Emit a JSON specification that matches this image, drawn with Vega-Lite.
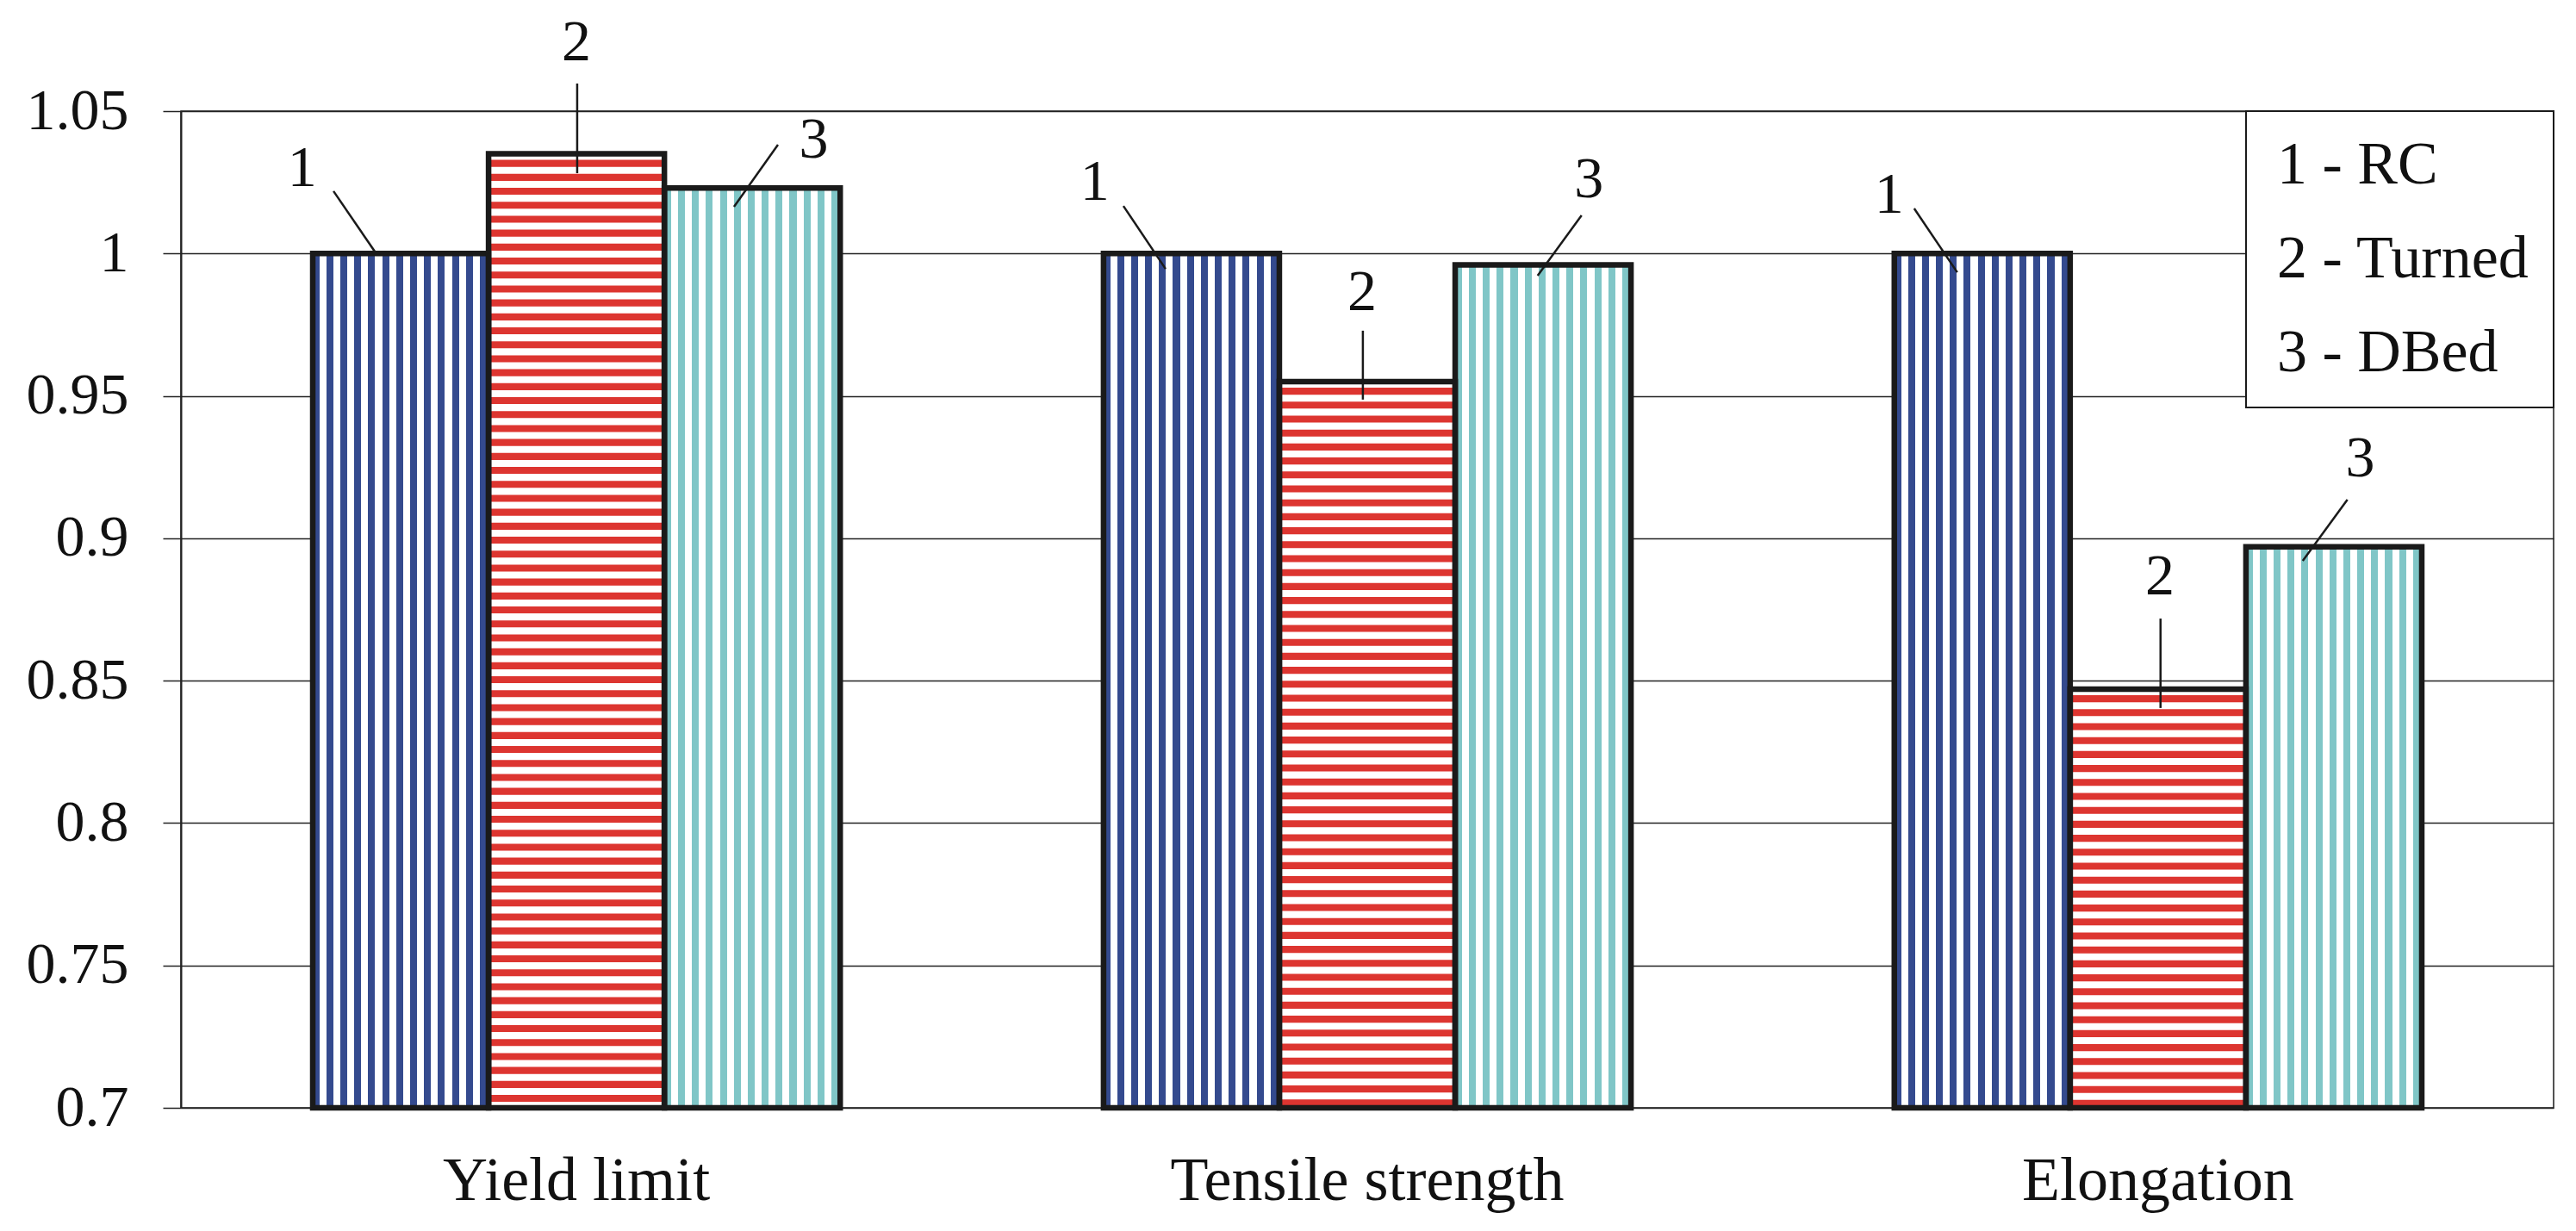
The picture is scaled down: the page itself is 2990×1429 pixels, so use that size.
{
  "$schema": "https://vega.github.io/schema/vega-lite/v6.json",
  "width": 2754,
  "height": 1157,
  "autosize": {"type": "none"},
  "padding": {"left": 210, "top": 129, "right": 26, "bottom": 143},
  "background": "white",
  "config": {
    "font": "Liberation Serif",
    "view": {"stroke": "#1A1A1A", "strokeWidth": 1.5},
    "legend": {"strokeWidth": 2}
  },
  "datasets": {
    "bars": [
      {"metric": "Yield limit", "series": "1 - RC", "value": 1.0},
      {"metric": "Yield limit", "series": "2 - Turned", "value": 1.035},
      {"metric": "Yield limit", "series": "3 - DBed", "value": 1.023},
      {"metric": "Tensile strength", "series": "1 - RC", "value": 1.0},
      {"metric": "Tensile strength", "series": "2 - Turned", "value": 0.955},
      {"metric": "Tensile strength", "series": "3 - DBed", "value": 0.996},
      {"metric": "Elongation", "series": "1 - RC", "value": 1.0},
      {"metric": "Elongation", "series": "2 - Turned", "value": 0.847},
      {"metric": "Elongation", "series": "3 - DBed", "value": 0.897}
    ],
    "labels": [
      {"metric": "Yield limit", "series": "1 - RC", "num": "1", "pos": -0.06, "ly": 1.0297},
      {"metric": "Yield limit", "series": "2 - Turned", "num": "2", "pos": 1.5, "ly": 1.0739},
      {"metric": "Yield limit", "series": "3 - DBed", "num": "3", "pos": 2.85, "ly": 1.0397},
      {"metric": "Tensile strength", "series": "1 - RC", "num": "1", "pos": -0.05, "ly": 1.0249},
      {"metric": "Tensile strength", "series": "2 - Turned", "num": "2", "pos": 1.47, "ly": 0.9862},
      {"metric": "Tensile strength", "series": "3 - DBed", "num": "3", "pos": 2.76, "ly": 1.0258},
      {"metric": "Elongation", "series": "1 - RC", "num": "1", "pos": -0.03, "ly": 1.0204},
      {"metric": "Elongation", "series": "2 - Turned", "num": "2", "pos": 1.51, "ly": 0.8863},
      {"metric": "Elongation", "series": "3 - DBed", "num": "3", "pos": 2.65, "ly": 0.9278}
    ],
    "leaders": [
      {"id": "Y1", "metric": "Yield limit", "pos": 0.118, "yv": 1.0219},
      {"id": "Y1", "metric": "Yield limit", "pos": 0.353, "yv": 1.0007},
      {"id": "Y2", "metric": "Yield limit", "pos": 1.504, "yv": 1.0597},
      {"id": "Y2", "metric": "Yield limit", "pos": 1.504, "yv": 1.0282},
      {"id": "Y3", "metric": "Yield limit", "pos": 2.646, "yv": 1.0382},
      {"id": "Y3", "metric": "Yield limit", "pos": 2.396, "yv": 1.0164},
      {"id": "T1", "metric": "Tensile strength", "pos": 0.113, "yv": 1.0167},
      {"id": "T1", "metric": "Tensile strength", "pos": 0.353, "yv": 0.9946},
      {"id": "T2", "metric": "Tensile strength", "pos": 1.475, "yv": 0.9729},
      {"id": "T2", "metric": "Tensile strength", "pos": 1.475, "yv": 0.9487},
      {"id": "T3", "metric": "Tensile strength", "pos": 2.719, "yv": 1.0134},
      {"id": "T3", "metric": "Tensile strength", "pos": 2.469, "yv": 0.9922},
      {"id": "E1", "metric": "Elongation", "pos": 0.113, "yv": 1.0158},
      {"id": "E1", "metric": "Elongation", "pos": 0.358, "yv": 0.9934},
      {"id": "E2", "metric": "Elongation", "pos": 1.514, "yv": 0.8718},
      {"id": "E2", "metric": "Elongation", "pos": 1.514, "yv": 0.8404},
      {"id": "E3", "metric": "Elongation", "pos": 2.577, "yv": 0.9136},
      {"id": "E3", "metric": "Elongation", "pos": 2.323, "yv": 0.8921}
    ]
  },
  "resolve": {"scale": {"xOffset": "independent"}},
  "layer": [
    {
      "data": {"name": "bars"},
      "mark": {"type": "bar", "strokeWidth": 0},
      "encoding": {
        "x": {
          "field": "metric", "type": "nominal",
          "scale": {"domain": ["Yield limit", "Tensile strength", "Elongation"], "paddingInner": 0.333, "paddingOuter": 0.1667},
          "axis": {"title": null, "labelAngle": 0, "ticks": false, "tickSize": 0, "domain": false, "labelFontSize": 72, "labelFont": "Liberation Serif", "labelColor": "#111111", "labelPadding": 49, "labelLimit": 1000}
        },
        "xOffset": {
          "field": "series", "type": "nominal",
          "scale": {"domain": ["1 - RC", "2 - Turned", "3 - DBed"], "paddingInner": 0, "paddingOuter": 0}
        },
        "y": {
          "field": "value", "type": "quantitative",
          "scale": {"domain": [0.7, 1.05], "nice": false, "zero": false},
          "axis": {"title": null, "values": [0.7, 0.75, 0.8, 0.85, 0.9, 0.95, 1, 1.05], "format": "~g", "grid": true, "gridColor": "#222222", "gridWidth": 1.5, "domain": true, "domainColor": "#222222", "domainWidth": 2, "ticks": true, "tickSize": 21, "tickColor": "#222222", "tickWidth": 1.5, "labelFontSize": 68, "labelFont": "Liberation Serif", "labelColor": "#111111", "labelPadding": 40, "labelFlush": false, "labelOverlap": false}
        },
        "y2": {"datum": 0.7},
        "fill": {
          "condition": [
            {"test": "datum.series === '1 - RC'", "value": {"gradient": "linear", "x1": 0, "y1": 0, "x2": 1, "y2": 0, "stops": [{"offset":0,"color":"#344A8E"},{"offset":0.038,"color":"#344A8E"},{"offset":0.038,"color":"#FFFFFF"},{"offset":0.0777,"color":"#FFFFFF"},{"offset":0.0777,"color":"#344A8E"},{"offset":0.1173,"color":"#344A8E"},{"offset":0.1173,"color":"#FFFFFF"},{"offset":0.157,"color":"#FFFFFF"},{"offset":0.157,"color":"#344A8E"},{"offset":0.1966,"color":"#344A8E"},{"offset":0.1966,"color":"#FFFFFF"},{"offset":0.2363,"color":"#FFFFFF"},{"offset":0.2363,"color":"#344A8E"},{"offset":0.2759,"color":"#344A8E"},{"offset":0.2759,"color":"#FFFFFF"},{"offset":0.3156,"color":"#FFFFFF"},{"offset":0.3156,"color":"#344A8E"},{"offset":0.3552,"color":"#344A8E"},{"offset":0.3552,"color":"#FFFFFF"},{"offset":0.3949,"color":"#FFFFFF"},{"offset":0.3949,"color":"#344A8E"},{"offset":0.4345,"color":"#344A8E"},{"offset":0.4345,"color":"#FFFFFF"},{"offset":0.4742,"color":"#FFFFFF"},{"offset":0.4742,"color":"#344A8E"},{"offset":0.5138,"color":"#344A8E"},{"offset":0.5138,"color":"#FFFFFF"},{"offset":0.5535,"color":"#FFFFFF"},{"offset":0.5535,"color":"#344A8E"},{"offset":0.5931,"color":"#344A8E"},{"offset":0.5931,"color":"#FFFFFF"},{"offset":0.6328,"color":"#FFFFFF"},{"offset":0.6328,"color":"#344A8E"},{"offset":0.6724,"color":"#344A8E"},{"offset":0.6724,"color":"#FFFFFF"},{"offset":0.7121,"color":"#FFFFFF"},{"offset":0.7121,"color":"#344A8E"},{"offset":0.7517,"color":"#344A8E"},{"offset":0.7517,"color":"#FFFFFF"},{"offset":0.7914,"color":"#FFFFFF"},{"offset":0.7914,"color":"#344A8E"},{"offset":0.831,"color":"#344A8E"},{"offset":0.831,"color":"#FFFFFF"},{"offset":0.8707,"color":"#FFFFFF"},{"offset":0.8707,"color":"#344A8E"},{"offset":0.9103,"color":"#344A8E"},{"offset":0.9103,"color":"#FFFFFF"},{"offset":0.95,"color":"#FFFFFF"},{"offset":0.95,"color":"#344A8E"},{"offset":0.9896,"color":"#344A8E"},{"offset":0.9896,"color":"#FFFFFF"},{"offset":1,"color":"#FFFFFF"}]}},
            {"test": "datum.series === '3 - DBed'", "value": {"gradient": "linear", "x1": 0, "y1": 0, "x2": 1, "y2": 0, "stops": [{"offset":0,"color":"#80C6C7"},{"offset":0.038,"color":"#80C6C7"},{"offset":0.038,"color":"#FFFFFF"},{"offset":0.0777,"color":"#FFFFFF"},{"offset":0.0777,"color":"#80C6C7"},{"offset":0.1173,"color":"#80C6C7"},{"offset":0.1173,"color":"#FFFFFF"},{"offset":0.157,"color":"#FFFFFF"},{"offset":0.157,"color":"#80C6C7"},{"offset":0.1966,"color":"#80C6C7"},{"offset":0.1966,"color":"#FFFFFF"},{"offset":0.2363,"color":"#FFFFFF"},{"offset":0.2363,"color":"#80C6C7"},{"offset":0.2759,"color":"#80C6C7"},{"offset":0.2759,"color":"#FFFFFF"},{"offset":0.3156,"color":"#FFFFFF"},{"offset":0.3156,"color":"#80C6C7"},{"offset":0.3552,"color":"#80C6C7"},{"offset":0.3552,"color":"#FFFFFF"},{"offset":0.3949,"color":"#FFFFFF"},{"offset":0.3949,"color":"#80C6C7"},{"offset":0.4345,"color":"#80C6C7"},{"offset":0.4345,"color":"#FFFFFF"},{"offset":0.4742,"color":"#FFFFFF"},{"offset":0.4742,"color":"#80C6C7"},{"offset":0.5138,"color":"#80C6C7"},{"offset":0.5138,"color":"#FFFFFF"},{"offset":0.5535,"color":"#FFFFFF"},{"offset":0.5535,"color":"#80C6C7"},{"offset":0.5931,"color":"#80C6C7"},{"offset":0.5931,"color":"#FFFFFF"},{"offset":0.6328,"color":"#FFFFFF"},{"offset":0.6328,"color":"#80C6C7"},{"offset":0.6724,"color":"#80C6C7"},{"offset":0.6724,"color":"#FFFFFF"},{"offset":0.7121,"color":"#FFFFFF"},{"offset":0.7121,"color":"#80C6C7"},{"offset":0.7517,"color":"#80C6C7"},{"offset":0.7517,"color":"#FFFFFF"},{"offset":0.7914,"color":"#FFFFFF"},{"offset":0.7914,"color":"#80C6C7"},{"offset":0.831,"color":"#80C6C7"},{"offset":0.831,"color":"#FFFFFF"},{"offset":0.8707,"color":"#FFFFFF"},{"offset":0.8707,"color":"#80C6C7"},{"offset":0.9103,"color":"#80C6C7"},{"offset":0.9103,"color":"#FFFFFF"},{"offset":0.95,"color":"#FFFFFF"},{"offset":0.95,"color":"#80C6C7"},{"offset":0.9896,"color":"#80C6C7"},{"offset":0.9896,"color":"#FFFFFF"},{"offset":1,"color":"#FFFFFF"}]}}
          ],
          "value": "#FFFFFF"
        }
      }
    },
    {
      "data": {"name": "bars"},
      "transform": [{"filter": "datum.series === '2 - Turned'"}],
      "mark": {"type": "rule", "stroke": "#DD3530", "strokeWidth": 204, "strokeDash": [8.1, 8.1], "strokeDashOffset": 9.2, "strokeCap": "butt"},
      "encoding": {
        "x": {"field": "metric", "type": "nominal", "scale": {"domain": ["Yield limit", "Tensile strength", "Elongation"], "paddingInner": 0.333, "paddingOuter": 0.1667},
          "axis": {"title": null, "labelAngle": 0, "ticks": false, "tickSize": 0, "domain": false, "labelFontSize": 72, "labelFont": "Liberation Serif", "labelColor": "#111111", "labelPadding": 49, "labelLimit": 1000}},
        "xOffset": {"field": "series", "type": "nominal", "scale": {"domain": ["1 - RC", "2 - Turned", "3 - DBed"], "paddingInner": 0, "paddingOuter": 0}},
        "y": {"field": "value", "type": "quantitative", "scale": {"domain": [0.7, 1.05], "nice": false, "zero": false},
          "axis": {"title": null, "values": [0.7, 0.75, 0.8, 0.85, 0.9, 0.95, 1, 1.05], "format": "~g", "grid": true, "gridColor": "#222222", "gridWidth": 1.5, "domain": true, "domainColor": "#222222", "domainWidth": 2, "ticks": true, "tickSize": 21, "tickColor": "#222222", "tickWidth": 1.5, "labelFontSize": 68, "labelFont": "Liberation Serif", "labelColor": "#111111", "labelPadding": 40, "labelFlush": false, "labelOverlap": false}},
        "y2": {"datum": 0.7}
      }
    },
    {
      "data": {"name": "bars"},
      "mark": {"type": "bar", "fillOpacity": 0, "stroke": "#1A1A1A", "strokeWidth": 6.5},
      "encoding": {
        "x": {"field": "metric", "type": "nominal", "scale": {"domain": ["Yield limit", "Tensile strength", "Elongation"], "paddingInner": 0.333, "paddingOuter": 0.1667},
          "axis": {"title": null, "labelAngle": 0, "ticks": false, "tickSize": 0, "domain": false, "labelFontSize": 72, "labelFont": "Liberation Serif", "labelColor": "#111111", "labelPadding": 49, "labelLimit": 1000}},
        "xOffset": {"field": "series", "type": "nominal", "scale": {"domain": ["1 - RC", "2 - Turned", "3 - DBed"], "paddingInner": 0, "paddingOuter": 0}},
        "y": {"field": "value", "type": "quantitative", "scale": {"domain": [0.7, 1.05], "nice": false, "zero": false},
          "axis": {"title": null, "values": [0.7, 0.75, 0.8, 0.85, 0.9, 0.95, 1, 1.05], "format": "~g", "grid": true, "gridColor": "#222222", "gridWidth": 1.5, "domain": true, "domainColor": "#222222", "domainWidth": 2, "ticks": true, "tickSize": 21, "tickColor": "#222222", "tickWidth": 1.5, "labelFontSize": 68, "labelFont": "Liberation Serif", "labelColor": "#111111", "labelPadding": 40, "labelFlush": false, "labelOverlap": false}},
        "y2": {"datum": 0.7}
      }
    },
    {
      "data": {"name": "leaders"},
      "mark": {"type": "line", "stroke": "#1A1A1A", "strokeWidth": 2.5},
      "encoding": {
        "x": {"field": "metric", "type": "nominal", "scale": {"domain": ["Yield limit", "Tensile strength", "Elongation"], "paddingInner": 0.333, "paddingOuter": 0.1667},
          "axis": {"title": null, "labelAngle": 0, "ticks": false, "tickSize": 0, "domain": false, "labelFontSize": 72, "labelFont": "Liberation Serif", "labelColor": "#111111", "labelPadding": 49, "labelLimit": 1000}},
        "xOffset": {"field": "pos", "type": "quantitative", "scale": {"domain": [0, 3]}},
        "y": {"field": "yv", "type": "quantitative", "scale": {"domain": [0.7, 1.05], "nice": false, "zero": false},
          "axis": {"title": null, "values": [0.7, 0.75, 0.8, 0.85, 0.9, 0.95, 1, 1.05], "format": "~g", "grid": true, "gridColor": "#222222", "gridWidth": 1.5, "domain": true, "domainColor": "#222222", "domainWidth": 2, "ticks": true, "tickSize": 21, "tickColor": "#222222", "tickWidth": 1.5, "labelFontSize": 68, "labelFont": "Liberation Serif", "labelColor": "#111111", "labelPadding": 40, "labelFlush": false, "labelOverlap": false}},
        "detail": {"field": "id", "type": "nominal"}
      }
    },
    {
      "data": {"name": "labels"},
      "mark": {"type": "text", "fontSize": 68, "font": "Liberation Serif", "align": "center", "baseline": "middle"},
      "encoding": {
        "x": {"field": "metric", "type": "nominal", "scale": {"domain": ["Yield limit", "Tensile strength", "Elongation"], "paddingInner": 0.333, "paddingOuter": 0.1667},
          "axis": {"title": null, "labelAngle": 0, "ticks": false, "tickSize": 0, "domain": false, "labelFontSize": 72, "labelFont": "Liberation Serif", "labelColor": "#111111", "labelPadding": 49, "labelLimit": 1000}},
        "xOffset": {"field": "pos", "type": "quantitative", "scale": {"domain": [0, 3]}},
        "y": {"field": "ly", "type": "quantitative", "scale": {"domain": [0.7, 1.05], "nice": false, "zero": false},
          "axis": {"title": null, "values": [0.7, 0.75, 0.8, 0.85, 0.9, 0.95, 1, 1.05], "format": "~g", "grid": true, "gridColor": "#222222", "gridWidth": 1.5, "domain": true, "domainColor": "#222222", "domainWidth": 2, "ticks": true, "tickSize": 21, "tickColor": "#222222", "tickWidth": 1.5, "labelFontSize": 68, "labelFont": "Liberation Serif", "labelColor": "#111111", "labelPadding": 40, "labelFlush": false, "labelOverlap": false}},
        "text": {"field": "num"},
        "color": {
          "field": "series", "type": "nominal",
          "scale": {"domain": ["1 - RC", "2 - Turned", "3 - DBed"], "range": ["#111111", "#111111", "#111111"]},
          "legend": {"title": null, "orient": "top-right", "offset": 0, "padding": 28, "strokeColor": "#1A1A1A", "fillColor": "#FFFFFF", "labelFontSize": 70, "labelFont": "Liberation Serif", "labelColor": "#111111", "labelLimit": 1000, "symbolSize": 0, "symbolOpacity": 0, "symbolStrokeWidth": 0, "rowPadding": 39, "labelOffset": -62}
        }
      }
    }
  ]
}
